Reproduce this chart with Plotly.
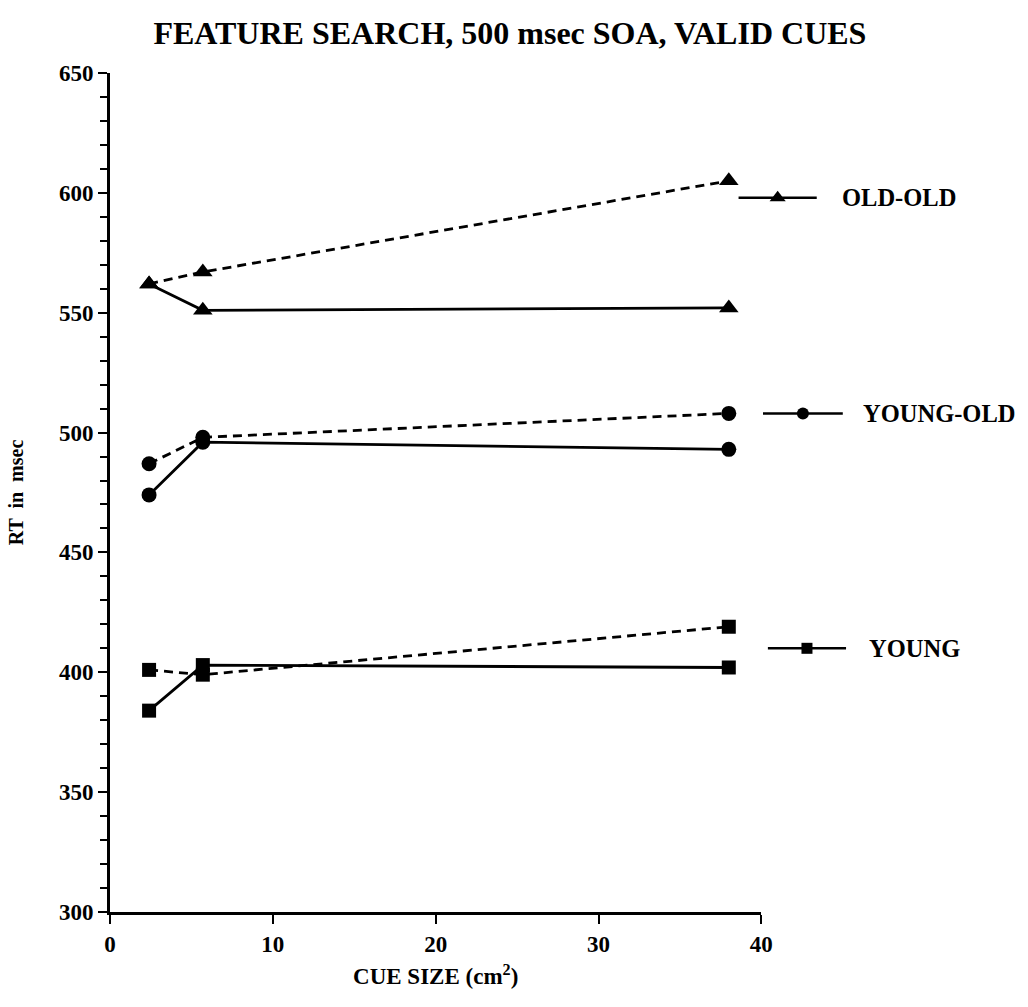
import plotly.graph_objects as go

# ---- data ----
cue_size = [2.4, 5.7, 38.0]
groups = ["OLD-OLD", "YOUNG-OLD", "YOUNG"]
symbols = ["triangle-up", "circle", "square"]
rt_dashed = {
    "OLD-OLD": [562, 567, 605],
    "YOUNG-OLD": [487, 498, 508],
    "YOUNG": [401, 399, 419],
}
rt_solid = {
    "OLD-OLD": [562, 551, 552],
    "YOUNG-OLD": [474, 496, 493],
    "YOUNG": [384, 403, 402],
}
x_ticks = [0, 10, 20, 30, 40]
y_ticks = [300, 350, 400, 450, 500, 550, 600, 650]

# legend key layout (in the units of the overlay axes, same scale as data axes)
legend_y = {"OLD-OLD": 598, "YOUNG-OLD": 508, "YOUNG": 410}
legend_line = {"OLD-OLD": (38.6, 43.4), "YOUNG-OLD": (40.1, 45.0), "YOUNG": (40.4, 45.2)}
legend_text_x = {"OLD-OLD": 44.8, "YOUNG-OLD": 46.1, "YOUNG": 46.5}

FONT = "Liberation Serif"
sizes = {"triangle-up": 17, "circle": 15, "square": 14}

W, H = 1028, 1007
L, R, T, B = 110, 0, 73, 95
plot_w = 660  # pixel width of the data axes
full_w = W - L - R
x2_max = 40 * full_w / plot_w

fig = go.Figure()
for g, s in zip(groups, symbols):
    fig.add_trace(go.Scatter(
        x=cue_size, y=rt_dashed[g], mode="lines+markers",
        line=dict(color="black", width=2.8, dash="9px,6px"),
        marker=dict(symbol=s, size=sizes[s], color="black"),
        showlegend=False, cliponaxis=False))
    fig.add_trace(go.Scatter(
        x=cue_size, y=rt_solid[g], mode="lines+markers",
        line=dict(color="black", width=2.8),
        marker=dict(symbol=s, size=sizes[s], color="black"),
        showlegend=False, cliponaxis=False))
    # legend key on the overlay axes
    x0, x1 = legend_line[g]
    fig.add_trace(go.Scatter(
        x=[x0, x1], y=[legend_y[g], legend_y[g]], mode="lines",
        line=dict(color="black", width=2.5),
        xaxis="x2", yaxis="y2", showlegend=False, hoverinfo="skip"))
    fig.add_trace(go.Scatter(
        x=[(x0 + x1) / 2], y=[legend_y[g]], mode="markers",
        marker=dict(symbol=s, size=sizes[s] - 3, color="black"),
        xaxis="x2", yaxis="y2", showlegend=False))
    fig.add_annotation(x=legend_text_x[g], y=legend_y[g], xref="x2", yref="y2",
                       text=g, showarrow=False, xanchor="left",
                       font=dict(family=FONT, size=24.5, color="black", weight="bold"))

axis_common = dict(showgrid=False, zeroline=False)
fig.update_layout(
    width=W, height=H,
    margin=dict(l=L, r=R, t=T, b=B),
    plot_bgcolor="rgba(0,0,0,0)", paper_bgcolor="white",
    title=dict(text="FEATURE SEARCH, 500 msec SOA, VALID CUES",
               x=0.496, xanchor="center", y=0.967, yanchor="middle",
               font=dict(family=FONT, size=32, color="black", weight="bold")),
    xaxis=dict(domain=[0, plot_w / full_w], range=[0, 40], tickvals=x_ticks,
               ticks="outside", ticklen=9, tickwidth=2, tickcolor="black",
               showline=True, linewidth=3, linecolor="black",
               tickfont=dict(family=FONT, size=23, color="black", weight="bold"),
               title=dict(text="CUE SIZE (cm<sup>2</sup>)", standoff=13,
                          font=dict(family=FONT, size=23, color="black", weight="bold")),
               **axis_common),
    yaxis=dict(range=[300, 650], tickvals=y_ticks, ticks="outside", ticklen=9,
               tickwidth=2, tickcolor="black", showline=True, linewidth=3,
               linecolor="black",
               minor=dict(dtick=10, ticks="outside", ticklen=7, tickwidth=2,
                          tickcolor="black", showgrid=False),
               tickfont=dict(family=FONT, size=23, color="black", weight="bold"),
               title=dict(text="RT  in  msec", standoff=30,
                          font=dict(family=FONT, size=20, color="black", weight="bold")),
               **axis_common),
    xaxis2=dict(domain=[0, 1], range=[0, x2_max], anchor="y2", visible=False,
                **axis_common),
    yaxis2=dict(domain=[0, 1], range=[300, 650], anchor="x2", visible=False,
                **axis_common),
)

fig.write_html("out.html",
               config={"displayModeBar": False},
               post_script="document.body.style.margin='0px';"
                           "document.body.style.overflow='hidden';")
